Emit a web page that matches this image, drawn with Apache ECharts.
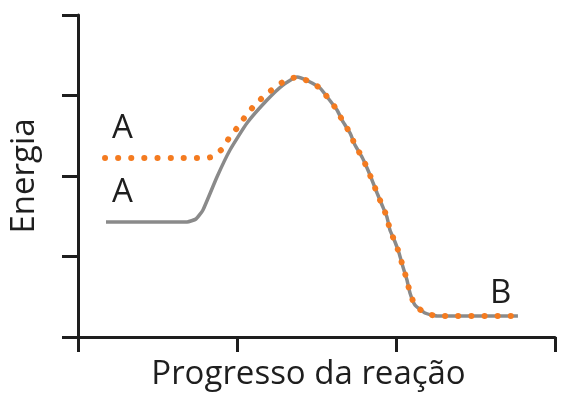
<!DOCTYPE html>
<html>
<head>
<meta charset="utf-8">
<script src="https://cdn.jsdelivr.net/npm/echarts@6/dist/echarts.min.js"></script>
<style>
  html, body { margin: 0; padding: 0; background: #fff; }
  #chart { width: 574px; height: 402px; }
</style>
</head>
<body>
<div id="chart"></div>
<script>
// reaction coordinate (x) and energy (y)
let uncatX = [0.176, 0.686, 0.742, 0.786, 0.874, 0.956, 1.063, 1.189, 1.289, 1.377,
    1.447, 1.522, 1.572, 1.629, 1.667, 1.711, 1.742, 1.786, 1.818, 1.849, 1.881,
    1.912, 1.943, 1.962, 1.994, 2.019, 2.044, 2.069, 2.088, 2.119, 2.182, 2.258, 2.767];
let uncatY = [1.429, 1.429, 1.466, 1.578, 1.988, 2.323, 2.658, 2.944, 3.130, 3.230,
    3.180, 3.093, 2.969, 2.820, 2.671, 2.534, 2.385, 2.236, 2.099, 1.950, 1.789,
    1.640, 1.491, 1.329, 1.180, 1.043, 0.870, 0.708, 0.547, 0.398, 0.298, 0.261, 0.261];

let dottedX = [0.170, 0.755, 0.843, 0.906, 0.950, 1.000, 1.050, 1.101, 1.164, 1.226, 1.289, 1.377,
    1.447, 1.522, 1.572, 1.629, 1.667, 1.711, 1.742, 1.786, 1.818, 1.849, 1.881,
    1.912, 1.943, 1.962, 1.994, 2.019, 2.044, 2.069, 2.088, 2.119, 2.182, 2.258, 2.767];
let dottedY = [2.224, 2.224, 2.236, 2.335, 2.472, 2.596, 2.733, 2.857, 2.981, 3.081, 3.168, 3.230,
    3.180, 3.093, 2.969, 2.820, 2.671, 2.534, 2.385, 2.236, 2.099, 1.950, 1.789,
    1.640, 1.491, 1.329, 1.180, 1.043, 0.870, 0.708, 0.547, 0.398, 0.298, 0.261, 0.261];

let xTicks = [0, 1, 2, 3];
let yTicks = [0, 1, 2, 3, 4];

function pairs(xs, ys) {
    let out = [];
    for (let i = 0; i < xs.length; i++) {
        out.push([xs[i], ys[i]]);
    }
    return out;
}

let fontName = '"Open Sans", "Noto Sans", sans-serif';
let ink = '#1e1e1e';

let chartDom = document.getElementById('chart');
let myChart = echarts.init(chartDom, null, { renderer: 'canvas' });

let axisLine = { show: true, lineStyle: { color: ink, width: 3 } };

let option = {
    animation: false,
    grid: { left: 78, right: 19, top: 15, bottom: 65 },
    xAxis: {
        type: 'value',
        min: xTicks[0],
        max: xTicks[xTicks.length - 1],
        interval: 1,
        axisLine: axisLine,
        axisTick: { show: true, length: 15, lineStyle: { color: ink, width: 3 } },
        axisLabel: { show: false },
        splitLine: { show: false },
        name: 'Progresso da reação',
        nameLocation: 'middle',
        nameGap: 21,
        nameTextStyle: { fontFamily: fontName, fontSize: 33, color: ink, padding: [0, 16, 0, 0] }
    },
    yAxis: {
        type: 'value',
        min: yTicks[0],
        max: yTicks[yTicks.length - 1],
        interval: 1,
        axisLine: axisLine,
        axisTick: { show: true, length: 16, lineStyle: { color: ink, width: 3 } },
        axisLabel: { show: false },
        splitLine: { show: false },
        name: 'Energia',
        nameLocation: 'middle',
        nameGap: 37,
        nameTextStyle: { fontFamily: fontName, fontSize: 33, color: ink }
    },
    graphic: [
        { type: 'text', left: 112, top: 112, style: { text: 'A', font: '33px ' + fontName, fill: ink } },
        { type: 'text', left: 112, top: 176, style: { text: 'A', font: '33px ' + fontName, fill: ink } },
        { type: 'text', left: 490, top: 277, style: { text: 'B', font: '33px ' + fontName, fill: ink } }
    ],
    series: [
        {
            type: 'line',
            data: pairs(uncatX, uncatY),
            showSymbol: false,
            smooth: 0.15,
            lineStyle: { color: '#8a8a8a', width: 3.5 }
        },
        {
            type: 'line',
            data: pairs(dottedX, dottedY),
            showSymbol: false,
            smooth: 0.15,
            lineStyle: { color: '#f47b20', width: 6, type: [0.1, 13], cap: 'round' }
        }
    ]
};

myChart.setOption(option);
</script>
</body>
</html>
